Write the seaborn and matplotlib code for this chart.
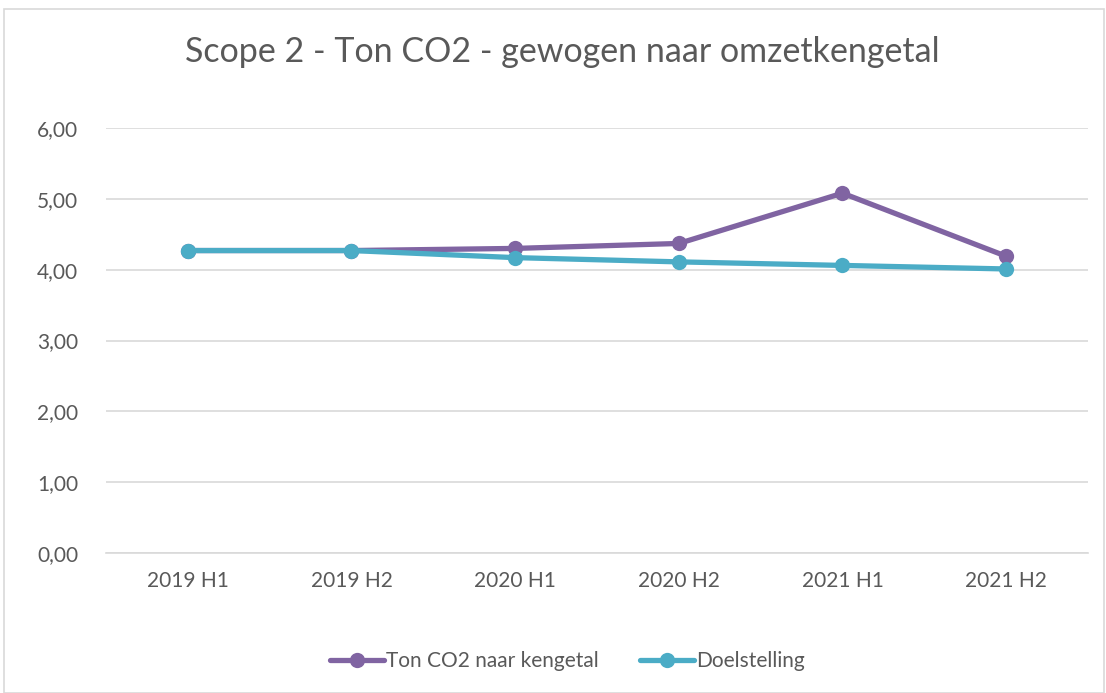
import pandas as pd
import matplotlib.pyplot as plt
import seaborn as sns
from matplotlib.patches import Rectangle
from matplotlib.ticker import FuncFormatter

# Data
periods = ['2019 H1', '2019 H2', '2020 H1', '2020 H2', '2021 H1', '2021 H2']
ton_co2 = [4.27, 4.27, 4.30, 4.37, 5.08, 4.19]
doelstelling = [4.27, 4.27, 4.17, 4.11, 4.06, 4.01]
series_names = ['Ton CO2 naar kengetal', 'Doelstelling']
colors = ['#8064A2', '#4BACC6']

df = pd.DataFrame({
    'periode': periods * 2,
    'waarde': ton_co2 + doelstelling,
    'reeks': [series_names[0]] * len(periods) + [series_names[1]] * len(periods),
})

sns.set_style('white')
plt.rcParams['font.family'] = ['Lato', 'DejaVu Sans']

fig = plt.figure(figsize=(11.06, 6.93), dpi=100)
ax = fig.add_axes([0.0958, 0.2020, 0.8879, 0.6133])

# outer chart border
fig.patches.append(Rectangle((0.004, 0.0), 0.994, 0.987, transform=fig.transFigure,
                             fill=False, edgecolor='#D9D9D9', linewidth=1.2))

sns.lineplot(data=df, x='periode', y='waarde', hue='reeks', palette=colors,
             marker='o', markersize=11, markeredgewidth=0, linewidth=3.8,
             sort=False, ax=ax, legend=False)

ax.set_xlim(-0.5, len(periods) - 0.5)
ax.set_ylim(0, 6)
ax.set_yticks([0, 1, 2, 3, 4, 5, 6])
ax.yaxis.set_major_formatter(FuncFormatter(lambda v, p: f'{v:.2f}'.replace('.', ',')))
ax.grid(axis='y', color='#D9D9D9', linewidth=1.2)
ax.set_axisbelow(True)
for s in ['left', 'right', 'top']:
    ax.spines[s].set_visible(False)
ax.spines['bottom'].set_color('#D9D9D9')
ax.spines['bottom'].set_linewidth(1.2)
ax.tick_params(axis='both', length=0, labelsize=15, colors='#595959')
ax.tick_params(axis='x', pad=13)
ax.tick_params(axis='y', pad=20)
ax.set_xlabel('')
ax.set_ylabel('')

fig.text(0.508, 0.925, 'Scope 2 - Ton CO2 - gewogen naar omzetkengetal',
         ha='center', va='center', fontsize=24.5, color='#595959')

handles = [plt.Line2D([], [], color=c, linewidth=3.8, marker='o', markersize=11,
                      markeredgewidth=0) for c in colors]
fig.legend(handles, series_names, loc='center', bbox_to_anchor=(0.513, 0.046),
           ncol=2, frameon=False, fontsize=15, labelcolor='#595959',
           handlelength=2.6, handletextpad=0.1, columnspacing=2.0)

fig.savefig('out.png', dpi=100)
